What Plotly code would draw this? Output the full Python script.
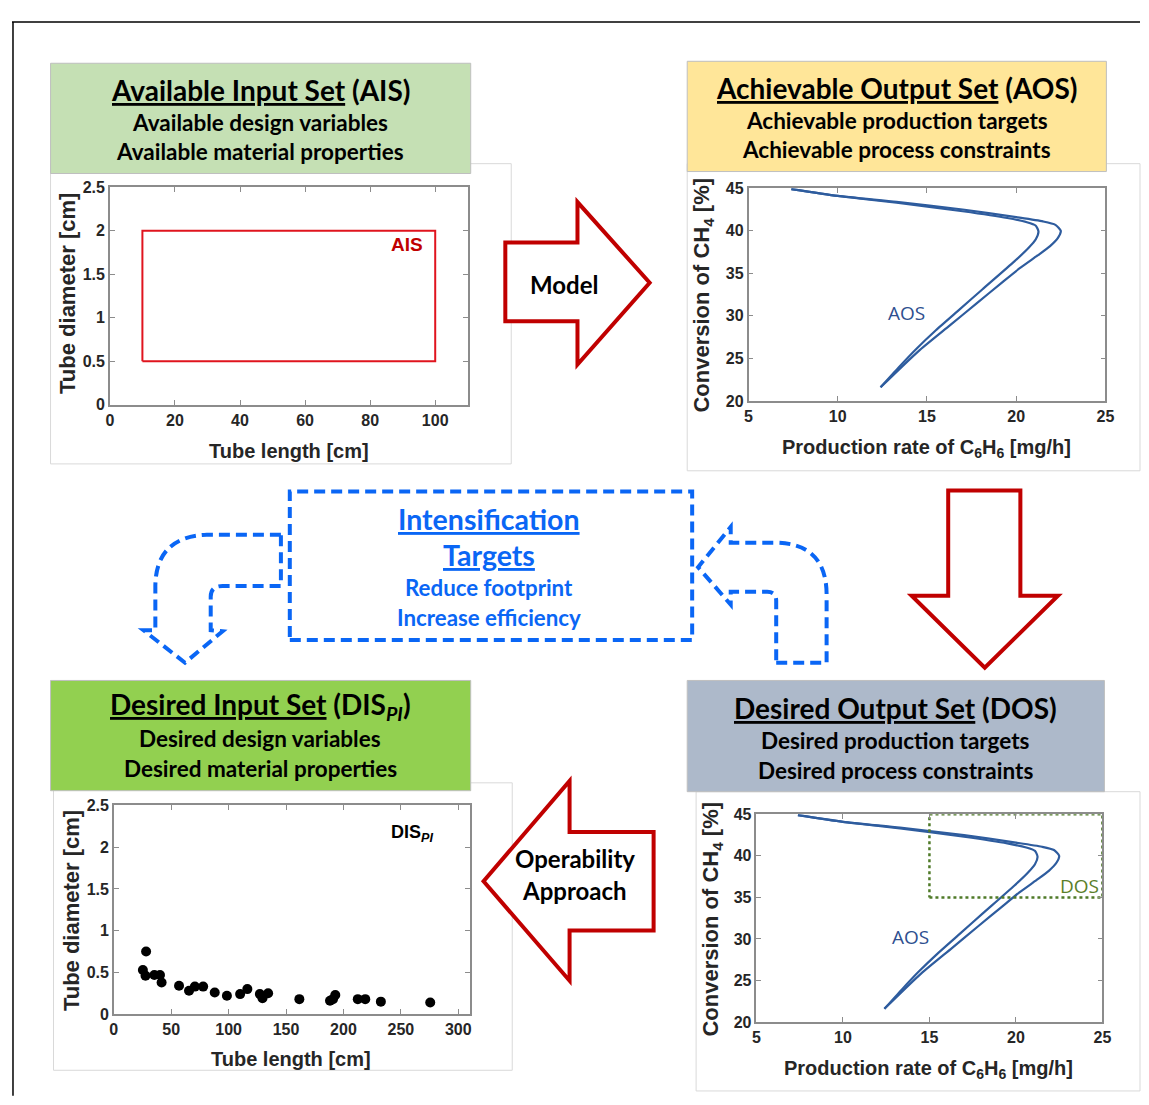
import plotly.graph_objects as go

# The page body keeps its default 8px margin, so the figure is drawn offset by 8px
OFF = 8
FW, FH = 1141, 1088

# ---------------- data ----------------
ais_length_bounds = [10, 100]
ais_diameter_bounds = [0.5, 2.0]

aos_outer_x = [7.4, 10.0, 13.3, 17.0, 20.0, 21.5, 22.2, 22.5, 22.35, 21.9, 21.2, 20.2, 19.2, 17.8, 16.3, 14.5, 12.4]
aos_outer_y = [44.9, 44.1, 43.4, 42.5, 41.6, 41.1, 40.7, 40.0, 39.2, 38.2, 37.1, 35.6, 33.9, 31.5, 28.9, 25.8, 21.6]
aos_inner_x = [7.4, 10.0, 13.3, 17.0, 19.5, 20.6, 21.1, 21.25, 21.1, 20.7, 19.9, 18.1, 16.8, 15.5, 14.4, 13.4, 12.4]
aos_inner_y = [44.9, 44.1, 43.3, 42.3, 41.5, 41.0, 40.6, 39.9, 39.0, 38.0, 36.4, 33.1, 30.7, 28.3, 26.1, 23.9, 21.6]

dis_length = [25.3, 28.1, 27.6, 35.3, 40.2, 41.6, 56.8, 65.5, 70.6, 77.8, 87.9, 98.5, 110.0, 116.3,
              127.2, 129.5, 134.4, 161.6, 188.3, 190.9, 192.9, 212.5, 219.0, 232.6, 275.6]
dis_diameter = [0.53, 0.75, 0.46, 0.47, 0.47, 0.38, 0.34, 0.28, 0.33, 0.33, 0.26, 0.22, 0.24, 0.30,
                0.24, 0.19, 0.25, 0.18, 0.16, 0.18, 0.23, 0.18, 0.18, 0.15, 0.14]

dos_rate_bounds = [15, 25]
dos_conv_bounds = [35, 45]

# ---------------- helpers ----------------
def X(px):
    return (px - OFF) / FW

def Y(py):
    return 1 - (py - OFF) / FH

def P(a, b):
    return f"{X(a):.5f},{Y(b):.5f}"

def path(points):
    return "M " + " L ".join(P(a, b) for a, b in points) + " Z"

RED = "#C00000"
BLUE = "#0A66F5"
CURVE = "#2E5C9E"
AXC = "#8C8C8C"
TICKF = dict(family="Liberation Sans, Arial", size=16, color="#262626", weight="bold")
HF = "Lato, Noto Sans"
AF = "Liberation Sans, Arial"

fig = go.Figure()

# AIS rectangle
rx = [ais_length_bounds[0], ais_length_bounds[1], ais_length_bounds[1], ais_length_bounds[0], ais_length_bounds[0]]
ry = [ais_diameter_bounds[0], ais_diameter_bounds[0], ais_diameter_bounds[1], ais_diameter_bounds[1], ais_diameter_bounds[0]]
fig.add_trace(go.Scatter(x=rx, y=ry, mode="lines", line=dict(color="#E0141E", width=2),
                         xaxis="x", yaxis="y", showlegend=False, hoverinfo="skip"))

# AOS curves (drawn in AOS and DOS panels)
for xa, ya in [("x2", "y2"), ("x4", "y4")]:
    fig.add_trace(go.Scatter(x=aos_outer_x, y=aos_outer_y, mode="lines",
                             line=dict(color=CURVE, width=2.2, shape="spline", smoothing=0.6),
                             xaxis=xa, yaxis=ya, showlegend=False, hoverinfo="skip"))
    fig.add_trace(go.Scatter(x=aos_inner_x, y=aos_inner_y, mode="lines",
                             line=dict(color=CURVE, width=2.2, shape="spline", smoothing=0.6),
                             xaxis=xa, yaxis=ya, showlegend=False, hoverinfo="skip"))

# DIS points
fig.add_trace(go.Scatter(x=dis_length, y=dis_diameter, mode="markers", marker=dict(color="black", size=10),
                         xaxis="x3", yaxis="y3", showlegend=False, hoverinfo="skip"))

# DOS rectangle
dx = [dos_rate_bounds[0], dos_rate_bounds[1], dos_rate_bounds[1], dos_rate_bounds[0], dos_rate_bounds[0]]
dy = [dos_conv_bounds[0], dos_conv_bounds[0], dos_conv_bounds[1], dos_conv_bounds[1], dos_conv_bounds[0]]
fig.add_trace(go.Scatter(x=dx, y=dy, mode="lines", line=dict(color="#4F7A28", width=2.5, dash="dot"),
                         xaxis="x4", yaxis="y4", showlegend=False, hoverinfo="skip", cliponaxis=False))

def ax(domain, rng, dtick, anchor):
    return dict(domain=domain, range=rng, dtick=dtick, anchor=anchor, showline=True, linecolor=AXC,
                linewidth=1.5, mirror="ticks", ticks="inside", ticklen=5, tickcolor=AXC, tickwidth=1,
                showgrid=False, zeroline=False, tickfont=TICKF, fixedrange=True)

fig.update_layout(
    width=FW, height=FH, margin=dict(l=0, r=0, t=0, b=0), autosize=False,
    paper_bgcolor="white", plot_bgcolor="rgba(0,0,0,0)", showlegend=False,
    xaxis=ax([X(107), X(469)], [0, 110], 20, "y"),
    yaxis=ax([Y(403), Y(182)], [0, 2.5], 0.5, "x"),
    xaxis2=ax([X(753), X(1114)], [5, 25], 5, "y2"),
    yaxis2=ax([Y(399), Y(183)], [20, 45], 5, "x2"),
    xaxis3=ax([X(111), X(471)], [0, 310], 50, "y3"),
    yaxis3=ax([Y(1022), Y(810)], [0, 2.5], 0.5, "x3"),
    xaxis4=ax([X(761), X(1111)], [5, 25], 5, "y4"),
    yaxis4=ax([Y(1030), Y(819)], [20, 45], 5, "x4"),
)

shapes = []
def rect(x0, y0, x1, y1, fill, line, lw=1):
    return dict(type="rect", xref="paper", yref="paper", x0=X(x0), x1=X(x1), y0=Y(y1), y1=Y(y0),
                fillcolor=fill, line=dict(color=line, width=lw), layer="below")

# outer frame lines
shapes.append(dict(type="line", xref="paper", yref="paper", x0=X(8), x1=X(1149), y0=Y(14), y1=Y(14),
                   line=dict(color="black", width=1.5)))
shapes.append(dict(type="line", xref="paper", yref="paper", x0=X(9), x1=X(9), y0=Y(14), y1=Y(1105),
                   line=dict(color="black", width=1.5)))
# figure frames
shapes.append(rect(47, 158, 513, 463, "white", "#D9D9D9"))
shapes.append(rect(691, 158, 1149, 470, "white", "#D9D9D9"))
shapes.append(rect(50, 787, 514, 1079, "white", "#D9D9D9"))
shapes.append(rect(700, 796, 1149, 1100, "white", "#D9D9D9"))
# header boxes
shapes.append(rect(47, 56, 472, 168, "#C5E0B4", "#BFBFBF"))
shapes.append(rect(691, 54, 1115, 166, "#FFE699", "#BFBFBF"))
shapes.append(rect(47, 683, 472, 795, "#92D050", "#BFBFBF"))
shapes.append(rect(691, 683, 1113, 796, "#ADB9CA", "#BFBFBF"))

# red block arrows
for pts in [
    [(507, 238), (580, 238), (580, 197), (653, 279), (580, 362), (580, 318), (507, 318)],
    [(955, 490), (1028, 490), (1028, 597), (1066, 597), (992, 670), (918, 597), (955, 597)],
    [(657, 837), (572, 837), (572, 785), (485, 887), (572, 988), (572, 937), (657, 937)],
]:
    shapes.append(dict(type="path", xref="paper", yref="paper", path=path(pts), fillcolor="white",
                       line=dict(color=RED, width=4)))

# blue dashed box
shapes.append(dict(type="rect", xref="paper", yref="paper", x0=X(289), x1=X(696), y0=Y(642), y1=Y(491),
                   line=dict(color=BLUE, width=4, dash="11px,6px")))

left_arrow = (f"M {P(280,535)} L {P(205,535)} Q {P(153,537)} {P(153,588)} L {P(153,632)} L {P(141,632)} "
              f"L {P(183,665)} L {P(221,633)} L {P(209,632)} L {P(209,598)} Q {P(209,587)} {P(221,587)} "
              f"L {P(280,587)} Z")
right_arrow = (f"M {P(781,665)} L {P(832,665)} L {P(832,596)} Q {P(832,543)} {P(779,543)} L {P(735,543)} "
               f"L {P(735,527)} L {P(702,568)} L {P(735,606)} L {P(735,593)} L {P(772,593)} "
               f"Q {P(781,593)} {P(781,602)} Z")
for pth in [left_arrow, right_arrow]:
    shapes.append(dict(type="path", xref="paper", yref="paper", path=pth,
                       line=dict(color=BLUE, width=4, dash="11px,6px")))

fig.update_layout(shapes=shapes)

ann = []
def txt(x, y, s, size, color="black", bold=True, family=HF, angle=0):
    ann.append(dict(x=X(x), y=Y(y), xref="paper", yref="paper", text=s, showarrow=False,
                    xanchor="center", yanchor="middle", textangle=angle,
                    font=dict(family=family, size=size, color=color, weight="bold" if bold else "normal")))

# headers
T1, T2 = 28, 22.5
txt(259, 83, "<u>Available Input Set</u> (AIS)", T1)
txt(259, 116, "Available design variables", T2)
txt(259, 146, "Available material properties", T2)
txt(903, 81, "<u>Achievable Output Set</u> (AOS)", T1)
txt(903, 114, "Achievable production targets", T2)
txt(903, 144, "Achievable process constraints", T2)
txt(259, 709, "<u>Desired Input Set</u> (DIS<sub><i>PI</i></sub>)", T1)
txt(259, 742, "Desired design variables", T2)
txt(259, 772, "Desired material properties", T2)
txt(902, 711, "<u>Desired Output Set</u> (DOS)", T1)
txt(902, 744, "Desired production targets", T2)
txt(902, 774, "Desired process constraints", T2)

# arrows text
txt(567, 281, "Model", 24)
txt(577, 864, "Operability", 24)
txt(577, 896, "Approach", 24)

# blue box text
txt(491, 519, "<u>Intensification</u>", 28.5, BLUE)
txt(491, 556, "<u>Targets</u>", 28.5, BLUE)
txt(491, 589, "Reduce footprint", 22.3, BLUE)
txt(491, 619, "Increase efficiency", 22.3, BLUE)

# axis titles
XT, YT = 20, 22
txt(288, 450, "Tube length [cm]", XT, "#262626", family=AF)
txt(64, 290, "Tube diameter [cm]", YT, "#262626", family=AF, angle=-90)
txt(933, 447, "Production rate of C<sub>6</sub>H<sub>6</sub> [mg/h]", XT, "#262626", family=AF)
txt(707, 292, "Conversion of CH<sub>4</sub> [%]", YT, "#262626", family=AF, angle=-90)
txt(290, 1068, "Tube length [cm]", XT, "#262626", family=AF)
txt(68, 917, "Tube diameter [cm]", YT, "#262626", family=AF, angle=-90)
txt(935, 1078, "Production rate of C<sub>6</sub>H<sub>6</sub> [mg/h]", XT, "#262626", family=AF)
txt(716, 925, "Conversion of CH<sub>4</sub> [%]", YT, "#262626", family=AF, angle=-90)

# in-plot labels (data coordinates)
def dtxt(xr, yr, x, y, s, size, color, bold=True, family=AF):
    ann.append(dict(x=x, y=y, xref=xr, yref=yr, text=s, showarrow=False, xanchor="center", yanchor="middle",
                    font=dict(family=family, size=size, color=color, weight="bold" if bold else "normal")))

dtxt("x", "y", 91.4, 1.84, "AIS", 19, RED)
dtxt("x2", "y2", 13.85, 30.3, "AOS", 19, "#2E4F8F", bold=False, family="Open Sans")
dtxt("x3", "y3", 260, 2.17, "DIS<sub><i>PI</i></sub>", 18, "black")
dtxt("x4", "y4", 13.9, 30.2, "AOS", 19, "#2E4F8F", bold=False, family="Open Sans")
dtxt("x4", "y4", 23.7, 36.4, "DOS", 19, "#5B7F2A", bold=False, family="Open Sans")

fig.update_layout(annotations=ann)

fig.write_html("out.html", config={"displayModeBar": False})
